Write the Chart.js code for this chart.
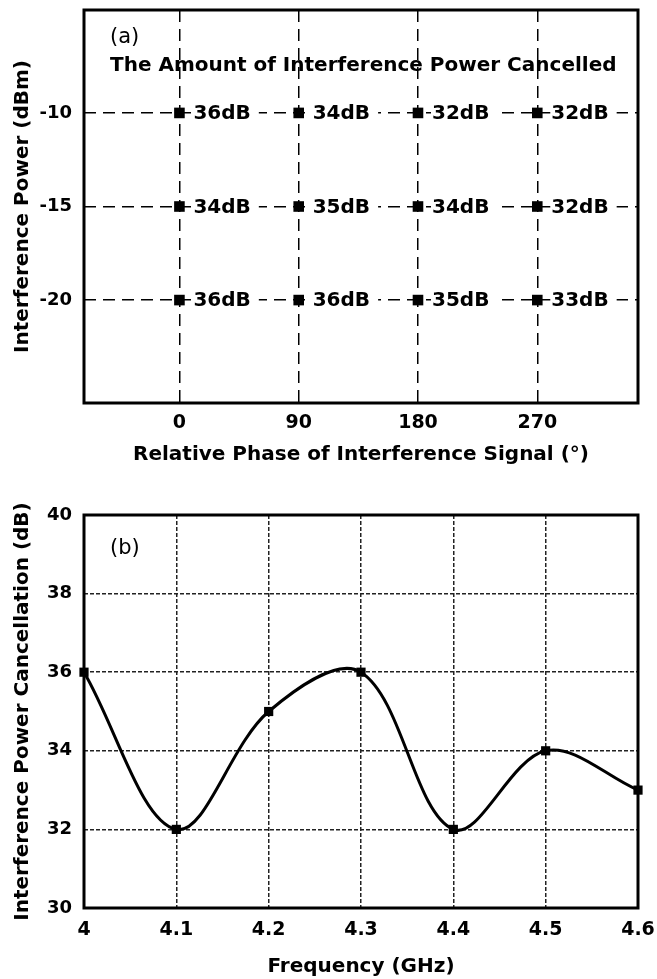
<!DOCTYPE html>
<html>
<head>
<meta charset="utf-8">
<script src="https://cdn.jsdelivr.net/npm/chart.js@4.4.0/dist/chart.umd.min.js"></script>
<style>
  body { margin: 0; background: #fff; }
  #wrap { position: relative; width: 657px; height: 979px; }
  #chartA { position: absolute; left: 0; top: 0; }
  #chartB { position: absolute; left: 0; top: 480px; }
</style>
</head>
<body>
<div id="wrap">
  <canvas id="chartA" width="657" height="480"></canvas>
  <canvas id="chartB" width="657" height="499"></canvas>
</div>
<script>
// (a) podaci: faza, snaga, ponistena snaga
var phases = [0, 90, 180, 270];
var powers = [-10, -15, -20];
var cancelledAt10 = [36, 34, 32, 32];
var cancelledAt15 = [34, 35, 34, 32];
var cancelledAt20 = [36, 36, 35, 33];

// (b) podaci: frekvencija i ponistavanje
var freqs = [4, 4.1, 4.2, 4.3, 4.4, 4.5, 4.6];
var cancellation = [36, 32, 35, 36, 32, 34, 33];
var dbTicks = [30, 32, 34, 36, 38, 40];

var FONT = "'DejaVu Sans'";

var cancelledRows = [cancelledAt10, cancelledAt15, cancelledAt20];
var gridPoints = [];
powers.forEach(function(p, r) {
	phases.forEach(function(ph, c) {
		gridPoints.push({x: ph, y: p, db: cancelledRows[r][c]});
	});
});

// fiksna sirina/visina osa, bez dodatnog razmaka za ivicne oznake
var fixSize = function(w, h) {
	return function(s) {
		if (w) s.width = w;
		if (h) s.height = h;
		s.paddingTop = 0; s.paddingBottom = 0;
		s.paddingLeft = 0; s.paddingRight = 0;
	};
};

// okvir oko oblasti grafika
var boxPlugin = {
	id: 'box',
	afterDraw: function(chart) {
		var a = chart.chartArea, c = chart.ctx;
		c.save();
		c.strokeStyle = '#000';
		c.lineWidth = 3;
		c.strokeRect(a.left, a.top, a.right - a.left, a.bottom - a.top);
		c.restore();
	}
};

// natpisi (a) i oznake dB pored tacaka
var labelsA = {
	id: 'labelsA',
	afterDatasetsDraw: function(chart) {
		var c = chart.ctx, xs = chart.scales.x, ys = chart.scales.y;
		c.save();
		c.font = 'bold 20px ' + FONT;
		c.textBaseline = 'middle';
		gridPoints.forEach(function(pt) {
			var px = xs.getPixelForValue(pt.x) + 14;
			var py = ys.getPixelForValue(pt.y);
			var txt = pt.db + 'dB';
			var w = c.measureText(txt).width;
			c.fillStyle = '#fff';
			c.fillRect(px - 1, py - 9, w + 9, 18);
			c.fillStyle = '#000';
			c.fillText(txt, px, py + 1);
		});
		c.font = '21px ' + FONT;
		c.fillText('(a)', 110, 38);
		c.font = 'bold 20px ' + FONT;
		c.fillText('The Amount of Interference Power Cancelled', 110, 66);
		c.restore();
	}
};

var labelsB = {
	id: 'labelsB',
	afterDraw: function(chart) {
		var c = chart.ctx;
		c.save();
		c.font = '21px ' + FONT;
		c.textBaseline = 'middle';
		c.fillStyle = '#000';
		c.fillText('(b)', 110, 69);
		c.restore();
	}
};

var tickFont = {family: FONT, weight: 'bold', size: 19};
var yTickFont = {family: FONT, weight: 'bold', size: 18};
var titleFont = {family: FONT, weight: 'bold', size: 20};

new Chart(document.getElementById('chartA'), {
	type: 'scatter',
	data: {
		datasets: [{
			data: gridPoints,
			pointStyle: 'rect',
			pointRadius: 7.5,
			pointHoverRadius: 7.5,
			backgroundColor: '#000',
			borderColor: '#000',
			borderWidth: 0
		}]
	},
	options: {
		responsive: false,
		animation: false,
		layout: {padding: {left: 0, top: 10, right: 19, bottom: 0}},
		plugins: {legend: {display: false}, tooltip: {enabled: false}},
		scales: {
			x: {
				type: 'linear', min: -72, max: 346,
				afterBuildTicks: function(s) { s.ticks = phases.map(function(v) { return {value: v}; }); },
				afterFit: fixSize(0, 77),
				grid: {color: '#000', lineWidth: 1.5, drawTicks: false},
				border: {display: false, dash: [12, 7]},
				ticks: {color: '#000', font: tickFont, padding: 9},
				title: {display: true, text: 'Relative Phase of Interference Signal (°)', color: '#000', font: titleFont, padding: {top: 0, bottom: 13}}
			},
			y: {
				type: 'linear', min: -25.5, max: -4.5,
				afterBuildTicks: function(s) { s.ticks = powers.map(function(v) { return {value: v}; }); },
				afterFit: fixSize(84, 0),
				grid: {color: '#000', lineWidth: 1.5, drawTicks: false},
				border: {display: false, dash: [12, 7]},
				ticks: {color: '#000', font: yTickFont, padding: 12},
				title: {display: true, text: 'Interference Power (dBm)', color: '#000', font: titleFont, padding: {top: 11, bottom: 0}}
			}
		}
	},
	plugins: [labelsA, boxPlugin]
});

new Chart(document.getElementById('chartB'), {
	type: 'line',
	data: {
		datasets: [{
			data: freqs.map(function(f, i) { return {x: f, y: cancellation[i]}; }),
			borderColor: '#000',
			borderWidth: 3,
			tension: 0.35,
			pointStyle: 'rect',
			pointRadius: 6.5,
			pointHoverRadius: 6.5,
			pointBackgroundColor: '#000',
			pointBorderWidth: 0,
			clip: false
		}]
	},
	options: {
		responsive: false,
		animation: false,
		layout: {padding: {left: 0, top: 35, right: 19, bottom: 0}},
		plugins: {legend: {display: false}, tooltip: {enabled: false}},
		scales: {
			x: {
				type: 'linear', min: 4, max: 4.6,
				afterBuildTicks: function(s) { s.ticks = freqs.map(function(v) { return {value: v}; }); },
				afterFit: fixSize(0, 71),
				grid: {color: '#222', lineWidth: 1.5, drawTicks: false},
				border: {display: false, dash: [4, 2]},
				ticks: {color: '#000', font: tickFont, padding: 11, callback: function(v) { return String(Math.round(v * 10) / 10); }},
				title: {display: true, text: 'Frequency (GHz)', color: '#000', font: titleFont, padding: {top: 0, bottom: 0}}
			},
			y: {
				type: 'linear', min: 30, max: 40,
				afterBuildTicks: function(s) { s.ticks = dbTicks.map(function(v) { return {value: v}; }); },
				afterFit: fixSize(84, 0),
				grid: {color: '#222', lineWidth: 1.5, drawTicks: false},
				border: {display: false, dash: [4, 2]},
				ticks: {color: '#000', font: yTickFont, padding: 12},
				title: {display: true, text: 'Interference Power Cancellation (dB)', color: '#000', font: titleFont, padding: {top: 11, bottom: 0}}
			}
		}
	},
	plugins: [labelsB, boxPlugin]
});
</script>
</body>
</html>
